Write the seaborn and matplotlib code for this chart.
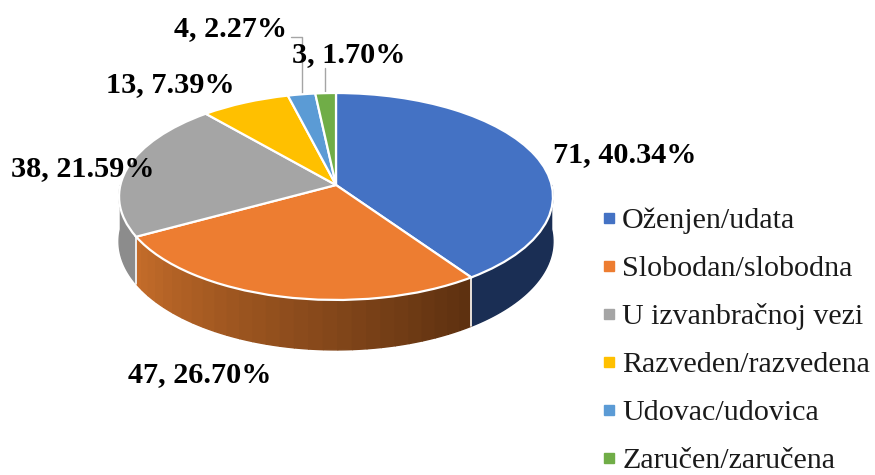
import numpy as np
import matplotlib
matplotlib.use("Agg")
import matplotlib.pyplot as plt
import matplotlib.transforms as mtrans
from matplotlib.lines import Line2D
import seaborn as sns

categories = ["Oženjen/udata", "Slobodan/slobodna", "U izvanbračnoj vezi",
              "Razveden/razvedena", "Udovac/udovica", "Zaručen/zaručena"]
values = [71, 47, 38, 13, 4, 3]
percents = [40.34, 26.70, 21.59, 7.39, 2.27, 1.70]
colors = ["#4472C4", "#ED7D31", "#A5A5A5", "#FFC000", "#5B9BD5", "#70AD47"]
label_xy = [(625, 155), (200, 375), (83, 169), (170, 85), (231, 29), (349, 55)]

sns.set_theme(style="white")
plt.rcParams["font.family"] = ["Liberation Serif", "DejaVu Serif"]

CX, CY, A, B, K, DEPTH = 336, 185, 215.6, 102.2, 0.111, 44.4


class Perspective(mtrans.Transform):
    input_dims = output_dims = 2
    is_separable = False
    has_inverse = False

    def transform_non_affine(self, values):
        v = np.asarray(values, dtype=float)
        w = 1 + K * v[:, 1]
        return np.column_stack([CX + A * v[:, 0] / w, CY - B * v[:, 1] / w])


def rim(theta, depth=0.0):
    x, y = np.cos(theta), np.sin(theta)
    w = 1 + K * y
    return CX + A * x / w, CY + (-B * y + depth) / w


fig = plt.figure(figsize=(8.75, 4.75), dpi=100)
ax = fig.add_axes([0, 0, 1, 1])

# side wall, drawn from the same cumulative shares as the top face
share = np.cumsum([0] + values) / sum(values)
angles = np.pi / 2 - 2 * np.pi * share
walls = [(angles[1], 0.0, ["#1A2E54"], 1),
         (angles[2], angles[1], ["#C46C2A", "#5E3110"], 28),
         (-np.pi, angles[2], ["#8C8C8C"], 1)]
for t_lo, t_hi, ramp, n in walls:
    edges = np.linspace(t_lo, t_hi, n + 1)
    pal = sns.blend_palette(ramp * (2 if len(ramp) == 1 else 1), max(n, 2))
    for j in range(n):
        th = np.linspace(edges[j], edges[j + 1], 40)
        xt, yt = rim(th)
        xb, yb = rim(th[::-1], DEPTH)
        ax.fill(np.r_[xt, xb], np.r_[yt, yb], color=pal[j], lw=1.0, zorder=1)
for a in angles[1:3]:
    x0, y0 = rim(a)
    x1, y1 = rim(a, DEPTH)
    ax.plot([x0, x1], [y0, y1], color="white", lw=1.2, zorder=2)

wedges, _ = ax.pie(values, colors=colors, startangle=90, counterclock=False,
                   wedgeprops=dict(edgecolor="white", linewidth=1.6))
tr = Perspective() + ax.transData
for wd in wedges:
    wd.set_transform(tr)
    wd.set_zorder(3)

ax.set_aspect("auto")
ax.set_xlim(0, 875)
ax.set_ylim(475, 0)
ax.axis("off")

# leader lines
ax.plot([291, 302, 302], [37, 37, 95], color="#A5A5A5", lw=1.0, zorder=2)
ax.plot([325, 325], [68, 94], color="#A5A5A5", lw=1.0, zorder=2)

for v, p, (x, y) in zip(values, percents, label_xy):
    ax.text(x, y, f"{v}, {p:.2f}%", ha="center", va="center", fontsize=21.8,
            fontweight="bold", color="black", zorder=5)

handles = [Line2D([], [], ls="", marker="s", ms=7, color=c) for c in colors]
ax.legend(handles, categories, loc="upper left", bbox_to_anchor=(602 / 875, 1 - 207 / 475),
          frameon=False, fontsize=21.6, labelspacing=0.70, handlelength=0.45,
          handletextpad=0.22, borderpad=0, borderaxespad=0, labelcolor="#1a1a1a")

fig.savefig("out.png", dpi=100)
